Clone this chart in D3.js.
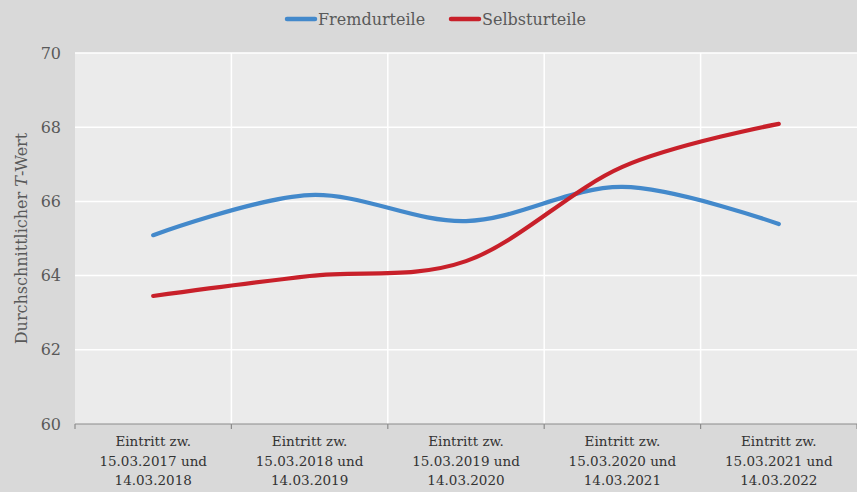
<!DOCTYPE html>
<html><head><meta charset="utf-8">
<script src="https://cdn.jsdelivr.net/npm/d3@7"></script>
<style>body{margin:0;background:#d9d9d9;}svg{display:block;}</style>
</head><body>
<svg id="c" width="857" height="492"></svg>
<script>
const categories = [
  ["Eintritt zw.", "15.03.2017 und", "14.03.2018"],
  ["Eintritt zw.", "15.03.2018 und", "14.03.2019"],
  ["Eintritt zw.", "15.03.2019 und", "14.03.2020"],
  ["Eintritt zw.", "15.03.2020 und", "14.03.2021"],
  ["Eintritt zw.", "15.03.2021 und", "14.03.2022"]
];
const fremdurteile = [65.09, 66.17, 65.47, 66.39, 65.39];
const selbsturteile = [63.45, 63.99, 64.39, 66.93, 68.09];
const seriesNames = ["Fremdurteile", "Selbsturteile"];
const seriesColors = ["#4389cb", "#c8202a"];
const yTicks = [60, 62, 64, 66, 68, 70];
const yTitle = "Durchschnittlicher ";
const yTitleItalic = "T";
const yTitleEnd = "-Wert";

const svg = d3.select("#c");
const W = 857, H = 492;
const m = {left: 75, right: 0, top: 53, bottom: 68};
const x = d3.scaleBand().domain(d3.range(categories.length)).range([m.left, W - m.right]).padding(0);
const y = d3.scaleLinear().domain([60, 70]).range([H - m.bottom, m.top]);
const font = "'DejaVu Serif', 'Liberation Serif', serif";
const textCol = "#595959";

svg.append("rect").attr("width", W).attr("height", H).attr("fill", "#d9d9d9");
svg.append("rect").attr("x", m.left).attr("y", m.top).attr("width", W - m.left - m.right)
  .attr("height", H - m.top - m.bottom).attr("fill", "#ebebeb");

// horizontal grid
svg.append("g").selectAll("line").data(yTicks.slice(1)).join("line")
  .attr("x1", m.left).attr("x2", W - m.right).attr("y1", d => y(d)).attr("y2", d => y(d))
  .attr("stroke", "#ffffff").attr("stroke-width", 1.5);
// vertical grid at band boundaries
svg.append("g").selectAll("line").data(d3.range(1, categories.length)).join("line")
  .attr("x1", d => x(d)).attr("x2", d => x(d)).attr("y1", m.top).attr("y2", H - m.bottom)
  .attr("stroke", "#ffffff").attr("stroke-width", 1.5);

// y axis labels
const ya = svg.append("g").attr("transform", `translate(${m.left},0)`)
  .call(d3.axisLeft(y).tickValues(yTicks).tickSize(0).tickPadding(14));
ya.select(".domain").remove();
ya.selectAll("text").attr("font-family", font).attr("font-size", 16).attr("fill", textCol);

// x axis
const xa = svg.append("g").attr("transform", `translate(0,${H - m.bottom})`);
xa.append("line").attr("x1", m.left).attr("x2", W).attr("stroke", "#8c8c8c").attr("stroke-width", 1.2);
xa.selectAll("line.t").data(d3.range(0, categories.length + 1)).join("line").attr("class", "t")
  .attr("x1", d => m.left + d * x.bandwidth()).attr("x2", d => m.left + d * x.bandwidth())
  .attr("y1", 0).attr("y2", 5).attr("stroke", "#8c8c8c").attr("stroke-width", 1.2);
categories.forEach((c, i) => {
  const t = xa.append("text").attr("x", x(i) + x.bandwidth() / 2).attr("y", 22)
    .attr("text-anchor", "middle").attr("font-family", font).attr("font-size", 13.5).attr("fill", "#333");
  c.forEach((line, j) => t.append("tspan").attr("x", x(i) + x.bandwidth() / 2).attr("dy", j === 0 ? 0 : 19.5).text(line));
});

// y title
const yt = svg.append("text").attr("transform", `translate(27,${(m.top + H - m.bottom) / 2}) rotate(-90)`)
  .attr("text-anchor", "middle").attr("font-family", font).attr("font-size", 16).attr("fill", textCol);
yt.append("tspan").text(yTitle);
yt.append("tspan").attr("font-style", "italic").text(yTitleItalic);
yt.append("tspan").text(yTitleEnd);

// lines
const line = d3.line().x((d, i) => x(i) + x.bandwidth() / 2).y(d => y(d)).curve(d3.curveCatmullRom.alpha(0));
[fremdurteile, selbsturteile].forEach((s, k) => {
  svg.append("path").datum(s).attr("d", line).attr("fill", "none")
    .attr("stroke", seriesColors[k]).attr("stroke-width", 4.2).attr("stroke-linecap", "round");
});

// legend
const legX = [287, 451];
seriesNames.forEach((n, k) => {
  const g = svg.append("g").attr("transform", `translate(${legX[k]},19)`);
  g.append("line").attr("x1", 0).attr("x2", 28).attr("stroke", seriesColors[k]).attr("stroke-width", 4.5).attr("stroke-linecap", "round");
  g.append("text").attr("x", 31).attr("y", 6).attr("font-family", font).attr("font-size", 16).attr("fill", textCol).text(n);
});
</script>
</body></html>
